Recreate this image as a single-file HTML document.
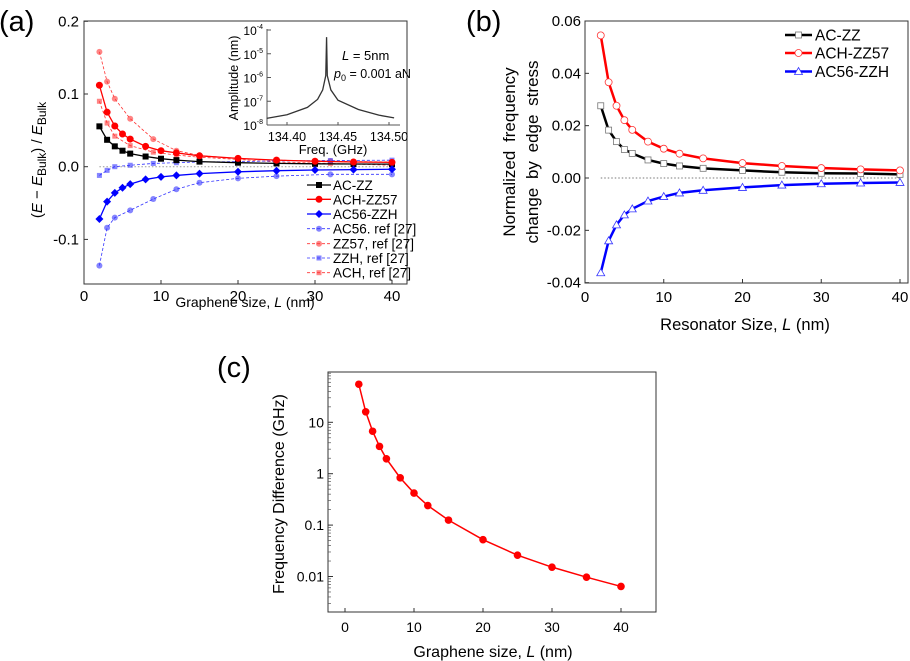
<!DOCTYPE html>
<html><head><meta charset="utf-8"><style>
html,body{margin:0;padding:0;background:#fff;}
svg{display:block;font-family:"Liberation Sans",Arial,sans-serif;}
</style></head><body>
<svg id="fig" width="910" height="661" viewBox="0 0 910 661" xmlns="http://www.w3.org/2000/svg">
<g id="pa"></g>
<g id="pb"></g>
<g id="pc"></g>
</svg>
<script>
// ---- Panel (a) data ----
const aL = [2,3,4,5,6,8,10,12,15,20,25,30,35,40];
const aACZZ = [0.0555,0.037,0.028,0.022,0.018,0.014,0.011,0.009,0.007,0.0055,0.0046,0.004,0.0037,0.0035];
const aACHZZ57 = [0.112,0.075,0.056,0.045,0.038,0.028,0.022,0.019,0.015,0.0115,0.009,0.0075,0.0065,0.006];
const aAC56ZZH = [-0.072,-0.048,-0.036,-0.029,-0.024,-0.0175,-0.014,-0.012,-0.0095,-0.007,-0.0055,-0.0045,-0.004,-0.0035];
const aRefL = [2,3,4,6,9,12,15,20,25,32,40];
const aRefAC56 = [-0.136,-0.084,-0.07,-0.06,-0.0445,-0.031,-0.022,-0.016,-0.013,-0.0105,-0.0105];
const aRefZZ57 = [0.158,0.117,0.0935,0.066,0.038,0.022,0.0155,0.011,0.009,0.0075,0.0065];
const aRefZZH = [-0.012,-0.005,0,0.002,0.0045,0.0055,0.0065,0.007,0.008,0.0085,0.009];
const aRefACH = [0.09,0.06,0.042,0.029,0.02,0.016,0.013,0.01,0.0065,0.0045,0.002];
const aXTicks = [0,10,20,30,40];
const aYTicks = [-0.1,0.0,0.1,0.2];
const aYTickLabels = ["-0.1","0.0","0.1","0.2"];
// inset
const inFreq = [134.380,134.400,134.420,134.430,134.435,134.4380,134.4388,134.4395,134.443,134.450,134.470,134.490,134.505];
const inAmp = [1.9e-8,2.7e-8,5.5e-8,1.2e-7,3.0e-7,1.2e-6,5e-5,1.2e-6,3.0e-7,1.1e-7,4.5e-8,2.6e-8,2.0e-8];
const inXTicks = [134.40,134.45,134.50];
const inYExp = [-8,-7,-6,-5,-4];
// ---- Panel (b) data ----
const bL = [2,3,4,5,6,8,10,12,15,20,25,30,35,40];
const bACZZ = [0.0276,0.0183,0.0139,0.0109,0.0094,0.0069,0.0055,0.0046,0.0037,0.0029,0.0022,0.0018,0.0017,0.0014];
const bACHZZ57 = [0.0545,0.0366,0.0276,0.0221,0.0184,0.0139,0.0112,0.0093,0.0075,0.0057,0.0046,0.0038,0.0033,0.0029];
const bAC56ZZH = [-0.0362,-0.024,-0.0179,-0.0141,-0.0118,-0.0088,-0.0071,-0.0057,-0.0047,-0.0036,-0.0027,-0.0022,-0.0019,-0.0017];
const bXTicks = [0,10,20,30,40];
const bYTicks = [-0.04,-0.02,0,0.02,0.04,0.06];
const bYTickLabels = ["-0.04","-0.02","0.00","0.02","0.04","0.06"];
// ---- Panel (c) data ----
const cL = [2,3,4,5,6,8,10,12,15,20,25,30,35,40];
const cDiff = [55,16,6.7,3.4,1.95,0.83,0.42,0.24,0.125,0.052,0.026,0.0152,0.0097,0.0064];
const cXTicks = [0,10,20,30,40];
const cYTicks = [0.01,0.1,1,10];
const cYTickLabels = ["0.01","0.1","1","10"];

const NS="http://www.w3.org/2000/svg";
function mk(parent,tag,attrs,text){const e=document.createElementNS(NS,tag);for(const k in attrs)e.setAttribute(k,attrs[k]);if(text!==undefined)e.textContent=text;parent.appendChild(e);return e;}
function lin(d0,d1,r0,r1){return v=>r0+(v-d0)*(r1-r0)/(d1-d0);}

// ===== Panel A =====
(function(){
const g=document.getElementById('pa');
const X=lin(0,40,84,392), Y=lin(0,0.1,166.7,94);
let t=mk(g,'text',{x:-1,y:31,'font-size':29},'(a)');


let r=mk(g,'rect',{x:84,y:21,width:323,height:263,fill:'none',stroke:'#333','stroke-width':1});


let z=mk(g,'line',{x1:X(2),x2:X(40),y1:Y(0),y2:Y(0),stroke:'#999','stroke-dasharray':'1.5,2'});


aXTicks.forEach(v=>{
  mk(g,'line',{x1:X(v),x2:X(v),y1:284,y2:280,stroke:'#333'});
  let tt=mk(g,'text',{x:X(v),y:301,'font-size':15,'text-anchor':'middle'},String(v));
  
  
});
aYTicks.forEach((v,i)=>{
  mk(g,'line',{x1:84,x2:88,y1:Y(v),y2:Y(v),stroke:'#333'});
  let tt=mk(g,'text',{x:79,y:Y(v)+5,'font-size':15,'text-anchor':'end'},aYTickLabels[i]);
  
  
});
let xt=mk(g,'text',{x:245,y:307,'font-size':14,'text-anchor':'middle'});
xt.innerHTML='Graphene size, <tspan font-style="italic">L</tspan> (nm)';


let yt=mk(g,'text',{transform:'translate(42,160) rotate(-90)','font-size':15,'text-anchor':'middle'});
yt.innerHTML='(<tspan font-style="italic">E</tspan> − <tspan font-style="italic">E</tspan><tspan font-size="12" dy="4">Bulk</tspan><tspan dy="-4">) / </tspan><tspan font-style="italic">E</tspan><tspan font-size="12" dy="4">Bulk</tspan>';


function series(xs,ys,color,dash,marker,name,w){
  const s=mk(g,'g',{});
  
  
  const pts=xs.map((x,i)=>X(x)+','+Y(ys[i])).join(' ');
  mk(s,'polyline',{points:pts,fill:'none',stroke:color,'stroke-width':w,'stroke-dasharray':dash});
  xs.forEach((x,i)=>drawMarker(s,X(x),Y(ys[i]),marker,color));
}
function drawMarker(s,cx,cy,m,c){
  let e;
  if(m==='sq') e=mk(s,'rect',{x:cx-3,y:cy-3,width:6,height:6,fill:c});
  else if(m==='ci') e=mk(s,'circle',{cx:cx,cy:cy,r:3.5,fill:c});
  else if(m==='di') e=mk(s,'polygon',{points:`${cx},${cy-4} ${cx+4},${cy} ${cx},${cy+4} ${cx-4},${cy}`,fill:c});
  else if(m==='rc') e=mk(s,'circle',{cx:cx,cy:cy,r:3,fill:c,'fill-opacity':0.6});
  else if(m==='rs') e=mk(s,'rect',{x:cx-2.5,y:cy-2.5,width:5,height:5,fill:c,'fill-opacity':0.6});
  
  
}
series(aRefL,aRefZZ57,'#f33','3,2','rc','series-zz57-ref',0.8);
series(aRefL,aRefACH,'#f33','3,2','rs','series-ach-ref',0.8);
series(aRefL,aRefAC56,'#33f','3,2','rc','series-ac56-ref',0.8);
series(aRefL,aRefZZH,'#33f','3,2','rs','series-zzh-ref',0.8);
series(aL,aACZZ,'#000','','sq','series-ac-zz',1.3);
series(aL,aACHZZ57,'#f00','','ci','series-ach-zz57',1.3);
series(aL,aAC56ZZH,'#00f','','di','series-ac56-zzh',1.3);
const leg=[['AC-ZZ','#000','','sq'],['ACH-ZZ57','#f00','','ci'],['AC56-ZZH','#00f','','di'],['AC56. ref [27]','#33f','3,2','rc'],['ZZ57, ref [27]','#f33','3,2','rc'],['ZZH, ref [27]','#33f','3,2','rs'],['ACH, ref [27]','#f33','3,2','rs']];
const ly=[185,199.3,214,228.7,243.7,258,272.7];
leg.forEach((l,i)=>{
  const e=mk(g,'g',{});
  
  
  mk(e,'line',{x1:307,x2:331,y1:ly[i],y2:ly[i],stroke:l[1],'stroke-width':l[2]?0.8:1.3,'stroke-dasharray':l[2]});
  drawMarker(e,319,ly[i],l[3],l[1]);
  mk(e,'text',{x:333,y:ly[i]+5,'font-size':13.5},l[0]);
});
// inset
const ig=mk(g,'g',{});


const IX=lin(134.40,134.50,287,389), IY=lin(-8,-4,125,30);
mk(ig,'line',{x1:267,x2:267,y1:29,y2:125,stroke:'#555'});
mk(ig,'line',{x1:267,x2:400,y1:125,y2:125,stroke:'#555'});
inXTicks.forEach(v=>{
  mk(ig,'line',{x1:IX(v),x2:IX(v),y1:125,y2:122,stroke:'#555'});
  mk(ig,'text',{x:IX(v),y:141,'font-size':12.5,'text-anchor':'middle'},v.toFixed(2));
});
inYExp.forEach(v=>{
  mk(ig,'line',{x1:267,x2:271,y1:IY(v),y2:IY(v),stroke:'#555'});
  const tt=mk(ig,'text',{x:263,y:IY(v)+5,'font-size':12,'text-anchor':'end'});
  tt.innerHTML='10<tspan font-size="7" dy="-6">'+v+'</tspan>';
});
mk(ig,'text',{x:333,y:154,'font-size':13,'text-anchor':'middle'},'Freq. (GHz)');
mk(ig,'text',{transform:'translate(238,78) rotate(-90)','font-size':12.5,'text-anchor':'middle'},'Amplitude (nm)');
const ipts=inFreq.map((f,i)=>IX(f)+','+IY(Math.log10(inAmp[i]))).join(' ');
const ic=mk(ig,'polyline',{points:ipts,fill:'none',stroke:'#333','stroke-width':1.3});


const l1=mk(ig,'text',{x:342,y:60,'font-size':13});
l1.innerHTML='<tspan font-style="italic">L</tspan> = 5nm';
const l2=mk(ig,'text',{x:334,y:78,'font-size':12.5});
l2.innerHTML='<tspan font-style="italic">p</tspan><tspan font-size="9" dy="3">0</tspan><tspan dy="-3"> = 0.001 aN</tspan>';
})();

// ===== Panel B =====
(function(){
const g=document.getElementById('pb');
const X=lin(0,40,585,900), Y=lin(0,0.06,178,21);
let t=mk(g,'text',{x:466,y:31,'font-size':29},'(b)');


let r=mk(g,'rect',{x:585,y:21,width:323,height:262,fill:'none',stroke:'#333'});


let z=mk(g,'line',{x1:X(2),x2:X(40),y1:Y(0),y2:Y(0),stroke:'#777','stroke-dasharray':'1.5,2'});


bXTicks.forEach(v=>{
  mk(g,'line',{x1:X(v),x2:X(v),y1:283,y2:279,stroke:'#333'});
  const tt=mk(g,'text',{x:X(v),y:302,'font-size':15,'text-anchor':'middle'},String(v));
  
  
});
bYTicks.forEach((v,i)=>{
  mk(g,'line',{x1:585,x2:589,y1:Y(v),y2:Y(v),stroke:'#333'});
  const tt=mk(g,'text',{x:581,y:Y(v)+5,'font-size':15,'text-anchor':'end'},bYTickLabels[i]);
  
  
});
const xt=mk(g,'text',{x:745,y:330,'font-size':16.5,'text-anchor':'middle'});
xt.innerHTML='Resonator Size, <tspan font-style="italic">L</tspan> (nm)';


const y1=mk(g,'text',{transform:'translate(515,152) rotate(-90)','font-size':17,'text-anchor':'middle','word-spacing':4},'Normalized  frequency');


const y2=mk(g,'text',{transform:'translate(538,152) rotate(-90)','font-size':17,'text-anchor':'middle','word-spacing':4},'change  by  edge  stress');


function mark(s,cx,cy,m,c){
  let e;
  if(m==='sq') e=mk(s,'rect',{x:cx-3,y:cy-3,width:6,height:6,fill:'#fff',stroke:'#777','stroke-width':0.8});
  else if(m==='ci') e=mk(s,'circle',{cx:cx,cy:cy,r:3.5,fill:'#fff',stroke:'#f33','stroke-width':0.8});
  else e=mk(s,'polygon',{points:`${cx},${cy-4} ${cx+4},${cy+3} ${cx-4},${cy+3}`,fill:'#fff',stroke:'#33f','stroke-width':0.8});
  
  
}
function series(ys,c,m,name){
  const s=mk(g,'g',{});
  
  
  mk(s,'polyline',{points:bL.map((x,i)=>X(x)+','+Y(ys[i])).join(' '),fill:'none',stroke:c,'stroke-width':2.5});
  bL.forEach((x,i)=>mark(s,X(x),Y(ys[i]),m,c));
}
series(bACZZ,'#000','sq','series-ac-zz-b');
series(bACHZZ57,'#f00','ci','series-ach-zz57-b');
series(bAC56ZZH,'#00f','tr','series-ac56-zzh-b');
const leg=[['AC-ZZ','#000','sq'],['ACH-ZZ57','#f00','ci'],['AC56-ZZH','#00f','tr']];
const ly=[35,53,71.5];
leg.forEach((l,i)=>{
  const e=mk(g,'g',{});
  
  
  mk(e,'line',{x1:785,x2:812,y1:ly[i],y2:ly[i],stroke:l[1],'stroke-width':2.5});
  mark(e,798.5,ly[i],l[2],l[1]);
  mk(e,'text',{x:815,y:ly[i]+5.5,'font-size':15.5},l[0]);
});
})();

// ===== Panel C =====
(function(){
const g=document.getElementById('pc');
const X=lin(0,40,345,621), Y=lin(1,0,422.3,473.7);
const LY=v=>Y(Math.log10(v));
let t=mk(g,'text',{x:217,y:377,'font-size':29},'(c)');


let r=mk(g,'rect',{x:328,y:372,width:328,height:240,fill:'none',stroke:'#333'});


cXTicks.forEach(v=>{
  mk(g,'line',{x1:X(v),x2:X(v),y1:612,y2:608,stroke:'#333'});
  const tt=mk(g,'text',{x:X(v),y:632,'font-size':14,'text-anchor':'middle'},String(v));
  
  
});
cYTicks.forEach((v,i)=>{
  mk(g,'line',{x1:328,x2:333,y1:LY(v),y2:LY(v),stroke:'#333'});
  for(let k=2;k<10;k++){const yy=LY(v*k);if(yy>373)mk(g,'line',{x1:328,x2:331,y1:yy,y2:yy,stroke:'#555','stroke-width':0.7});}
  const tt=mk(g,'text',{x:324,y:LY(v)+5,'font-size':14,'text-anchor':'end'},cYTickLabels[i]);
  
  
});
for(let k=2;k<10;k++){const yy=LY(0.001*k);if(yy<611)mk(g,'line',{x1:328,x2:331,y1:yy,y2:yy,stroke:'#555','stroke-width':0.7});}
const xt=mk(g,'text',{x:493,y:657,'font-size':16,'text-anchor':'middle'});
xt.innerHTML='Graphene size, <tspan font-style="italic">L</tspan> (nm)';


const yt=mk(g,'text',{transform:'translate(284,494) rotate(-90)','font-size':16,'text-anchor':'middle'},'Frequency Difference (GHz)');


const s=mk(g,'g',{});


mk(s,'polyline',{points:cL.map((x,i)=>X(x)+','+LY(cDiff[i])).join(' '),fill:'none',stroke:'#f00','stroke-width':1.5});
cL.forEach((x,i)=>{
  const c=mk(s,'circle',{cx:X(x),cy:LY(cDiff[i]),r:3.8,fill:'#f00'});
  
  
});
})();
</script>
</body></html>
